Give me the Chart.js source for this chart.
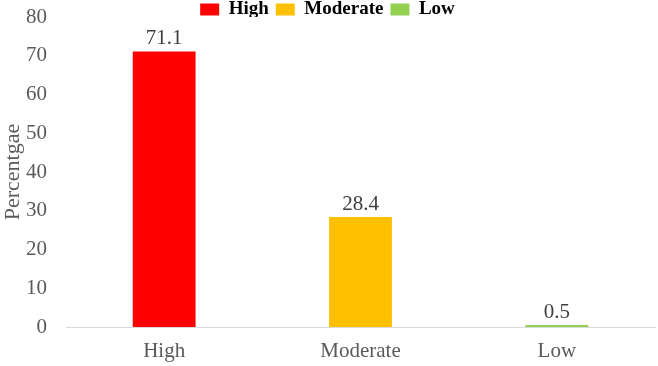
<!DOCTYPE html>
<html>
<head>
<meta charset="utf-8">
<script src="https://cdn.jsdelivr.net/npm/chart.js@4"></script>
<style>
  html, body { margin: 0; padding: 0; background: #ffffff; }
  #box { width: 658px; height: 366px; }
</style>
</head>
<body>
<div id="box"><canvas id="niveaux"></canvas></div>
<script>
const categories = ['High', 'Moderate', 'Low'];
const valeurs = [71.1, 28.4, 0.5];
const couleurs = ['#ff0000', '#ffc000', '#92d050'];
const yTicks = [0, 10, 20, 30, 40, 50, 60, 70, 80];

const serif = '"Liberation Serif", "Times New Roman", serif';

// étiquettes au-dessus des barres
const etiquettes = {
    id: 'etiquettes',
    afterDatasetsDraw(chart) {
        const ctx = chart.ctx;
        ctx.save();
        ctx.font = '21px ' + serif;
        ctx.fillStyle = '#404040';
        ctx.textAlign = 'center';
        ctx.textBaseline = 'alphabetic';
        chart.data.datasets.forEach((ds, i) => {
            const meta = chart.getDatasetMeta(i);
            meta.data.forEach((bar, j) => {
                if (ds.data[j] == null) return;
                ctx.fillText(ds.data[j].toFixed(1), bar.x, bar.y - 7);
            });
        });
        ctx.restore();
    }
};

// légende plus serrée que celle de Chart.js (qui ajoute 10px)
const legendeSerree = {
    id: 'legendeSerree',
    beforeLayout(chart) {
        const lg = chart.legend;
        if (!lg || lg._serree) return;
        const fitOrig = lg.fit.bind(lg);
        lg.fit = function () {
            fitOrig();
            this.height = 24;
        };
        lg._serree = true;
    }
};

// une série par catégorie pour avoir la légende
const datasets = categories.map((cat, i) => ({
    label: cat,
    data: categories.map((c, j) => (j === i ? valeurs[i] : null)),
    backgroundColor: couleurs[i],
    borderWidth: 0,
    barPercentage: 0.32,
    categoryPercentage: 1.0,
    skipNull: true
}));

const ctx = document.getElementById('niveaux').getContext('2d');
new Chart(ctx, {
    type: 'bar',
    data: { labels: categories, datasets: datasets },
    options: {
        responsive: true,
        maintainAspectRatio: false,
        animation: false,
        layout: { padding: { top: -7, right: 3, left: 0, bottom: 0 } },
        plugins: {
            legend: {
                position: 'top',
                labels: {
                    boxWidth: 19,
                    boxHeight: 12,
                    padding: 7,
                    color: '#000000',
                    font: { family: serif, size: 19, weight: 'bold', lineHeight: 1.0 }
                }
            },
            tooltip: { enabled: false }
        },
        scales: {
            x: {
                afterFit: (axis) => { axis.height = 39; },
                grid: { display: false, drawTicks: false },
                border: { display: true, color: '#d9d9d9', width: 1 },
                ticks: {
                    color: '#595959',
                    padding: 12,
                    font: { family: serif, size: 21 }
                }
            },
            y: {
                min: 0,
                max: 80,
                afterBuildTicks: (axis) => { axis.ticks = yTicks.map(v => ({ value: v })); },
                afterFit: (axis) => { axis.width = 66; axis.paddingTop = 0; },
                grid: { display: false, drawTicks: false },
                border: { display: false },
                title: {
                    display: true,
                    text: 'Percentgae',
                    color: '#595959',
                    padding: { top: 0, bottom: 2 },
                    font: { family: serif, size: 22 }
                },
                ticks: {
                    color: '#595959',
                    padding: 19,
                    font: { family: serif, size: 21 }
                }
            }
        }
    },
    plugins: [etiquettes, legendeSerree]
});
</script>
</body>
</html>
